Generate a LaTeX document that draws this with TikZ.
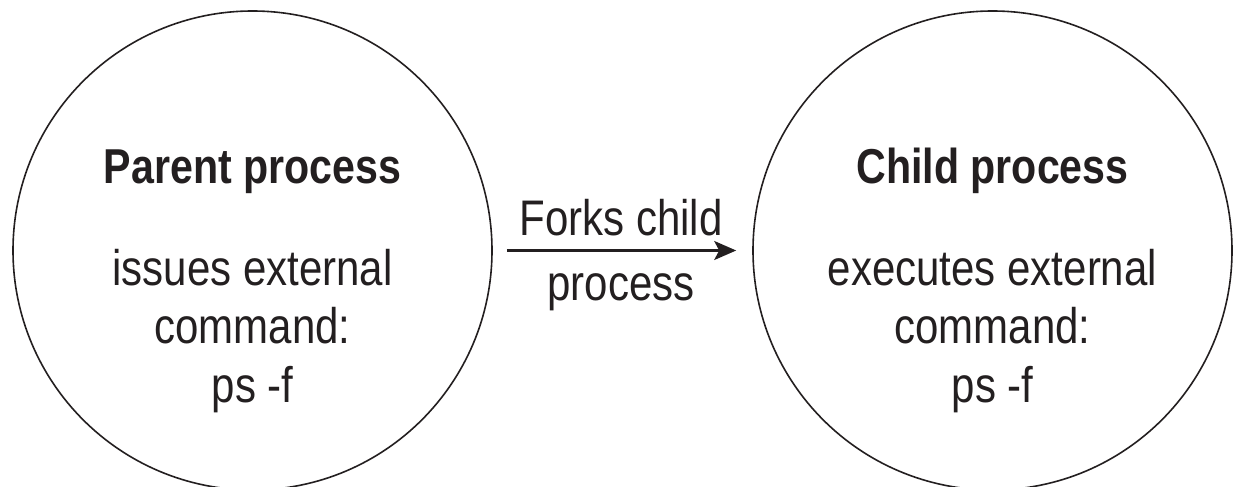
\documentclass[tikz,border=0pt]{standalone}
\usepackage{fontspec}
\setmainfont{Liberation Sans}[FakeStretch=0.84]
\usetikzlibrary{arrows.meta}
\definecolor{ink}{HTML}{231F20}
\tikzset{
  proc/.style={circle, draw=ink, line width=1.6pt, minimum size=479pt, inner sep=0pt},
  title/.style={anchor=base, text=ink, font=\fontsize{49}{58}\selectfont\bfseries, inner sep=0pt},
  body/.style={anchor=base, text=ink, font=\fontsize{50}{58}\selectfont, inner sep=0pt},
  flow/.style={draw=ink, line width=2.2pt, -{Stealth[length=22pt,width=19pt,inset=5pt]}}
}
\begin{document}
\begin{tikzpicture}[x=1pt,y=-1pt]
  \useasboundingbox (0,0) rectangle (1235,487);

  % the two processes
  \node[proc] (parent) at (252.5,250.5) {};
  \node[proc] (child)  at (992.5,250.5) {};

  % parent text
  \node[title] (ptitle) at (252.5,183) {Parent process};
  \node[body] (pl1) at (252.5,285) {issues external};
  \node[body] (pl2) at (252.5,343) {command:};
  \node[body] (pl3) at (252.5,402) {ps -f};

  % child text
  \node[title] (ctitle) at (992.5,183) {Child process};
  \node[body] (cl1) at (992.5,285) {executes external};
  \node[body] (cl2) at (992.5,343) {command:};
  \node[body] (cl3) at (992.5,402) {ps -f};

  % fork arrow and its label
  \coordinate (fstart) at ([xshift=14pt]parent.east);
  \coordinate (fend) at ([xshift=-16pt]child.west);
  \draw[flow] (fstart) -- (fend);
  \node[body] (fl1) at (621,235) {Forks child};
  \node[body] (fl2) at (621,300) {process};
\end{tikzpicture}
\end{document}
